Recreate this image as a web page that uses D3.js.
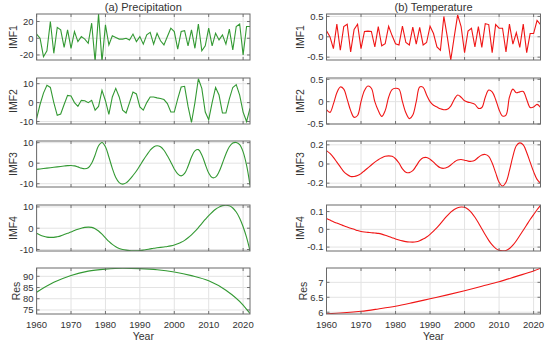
<!DOCTYPE html>
<html>
<head>
<meta charset="utf-8">
<script src="https://cdn.jsdelivr.net/npm/d3@7"></script>
<style>
  body { margin: 0; background: #fff; }
  text { font-family: "Liberation Sans", Arial, sans-serif; fill: #333; }
</style>
</head>
<body>
<script>
// annual series 1960-2022
var years = d3.range(1960, 2023);
var resYears = [1960, 1965, 1970, 1975, 1980, 1985, 1990, 1995, 2000, 2005, 2010, 2015, 2020, 2022];

var precipIMF1 = [5, 0, -22, -15, 20, -18, 13, 10, -11, 10, -12, 8, -4, 2, -1, -6, 18, -28, 29, -28,
  16, -8, 3, 1, -1, -1, 0, -2, 5, -4, 2, -7, 4, 7, -7, 6, -3, -8, 2, 12,
  8, -13, 8, 9, -9, 10, -12, 17, -15, -9, 12, -9, 6, -2, 4, -7, 11, -14, 14, 17,
  -20, 14, 14];
var precipIMF2 = [-8.4, -1, 5, 9.1, 8, 0, -6.7, -6, -1, 3.8, 3.5, 0, -2, 1.2, 1, 0, 1.2, -4, -2, 6.5,
  1, -6.2, 3, 7.5, 3, -4, -5.5, 0, 5.6, 4.6, -2.3, -4, 0, 3, 3, 2.5, 2.2, 1.6, -0.5, -5,
  -5, 2, 8.2, 8.6, -2, -10.5, 0, 12.6, 7.5, -5, -9, 0, 8, 4, -5.5, -5.5, 2, 8, 9.5, 4,
  -5, -10, -3];
var precipIMF3 = [-3.0, -2.8, -2.6, -2.4, -2.2, -2.0, -1.8, -1.6, -1.4, -1.2, -1.1, -1.3, -1.8, -2.4, -2.7, -2.2, 0, 4, 8.5, 10.1,
  8, 3, -2.5, -7, -9.5, -10.2, -9.6, -8, -6, -3.8, -1.2, 1.5, 4, 6.3, 7.9, 8.5, 8, 6.3, 3.6, 0.5,
  -2.8, -5.2, -6.2, -5, -1.5, 3, 6, 6.6, 4, -0.5, -4.8, -7, -6.8, -4.2, 0, 4.5, 8, 9.8, 10.1, 9,
  5.5, -1, -10.7];
var precipIMF4 = [-2.4, -3.2, -3.8, -4.2, -4.3, -4.3, -4.0, -3.6, -3.0, -2.4, -1.8, -1.1, -0.5, 0, 0.4, 0.5, 0.4, -0.2, -1.3, -2.8,
  -4.5, -6.2, -7.6, -8.7, -9.5, -10.0, -10.3, -10.5, -10.6, -10.6, -10.5, -10.3, -10.0, -9.7, -9.4, -9.2, -9.0, -8.8, -8.6, -8.3,
  -7.9, -7.3, -6.6, -5.7, -4.5, -3.1, -1.5, 0.3, 2.2, 4.1, 5.9, 7.5, 8.9, 9.9, 10.6, 10.8, 10.5, 9.5, 7.6, 4.7,
  0.7, -4.3, -10.6];
var precipRes = [82.9, 87.3, 90.4, 92.3, 93.2, 93.6, 93.4, 92.9, 91.9, 90.3, 88.0, 83.8, 77.2, 73.4];

var tempIMF1 = [0.15, 0.0, -0.29, 0.31, -0.33, 0.25, 0.31, -0.37, 0.18, 0.31, -0.29, 0.13, 0.14, 0.13, -0.25, 0.25, -0.22, -0.17, 0.26, 0.03,
  -0.17, -0.2, 0.26, -0.14, -0.2, 0.24, -0.18, 0.23, -0.2, -0.14, 0.26, 0.08, -0.25, -0.33, 0.5, 0.0, -0.57, 0.0, 0.54, 0.25,
  -0.39, 0.14, 0.21, -0.25, 0.25, -0.26, 0.32, 0.3, -0.39, 0.3, 0.21, 0.21, -0.37, 0.31, -0.18, 0.1, -0.26, 0.31, -0.39, 0.08,
  0.08, 0.4, 0.3];
var tempIMF2 = [-0.18, -0.24, -0.05, 0.2, 0.33, 0.28, 0.05, -0.2, -0.35, -0.31, 0.0, 0.25, 0.35, 0.3, 0.0, -0.2, -0.33, -0.2, 0.1, 0.27,
  0.3, 0.28, 0.0, -0.25, -0.38, -0.3, 0.0, 0.33, 0.32, 0.15, 0.0, -0.08, -0.12, -0.16, -0.18, -0.17, -0.1, 0.05, 0.15, 0.1,
  0.02, -0.01, -0.03, -0.06, -0.15, -0.13, 0.1, 0.26, 0.22, 0.05, -0.18, -0.32, -0.3, 0.1, 0.28, 0.2, 0.22, 0.23, 0.05, -0.13,
  -0.12, -0.06, -0.13];
var tempIMF3 = [0.14, 0.11, 0.07, 0.02, -0.03, -0.08, -0.11, -0.13, -0.13, -0.12, -0.1, -0.07, -0.04, -0.01, 0.02, 0.045, 0.065, 0.08, 0.085, 0.08,
  0.055, 0.01, -0.05, -0.085, -0.09, -0.07, -0.02, 0.035, 0.065, 0.068, 0.05, 0.02, -0.015, -0.04, -0.045, -0.035, -0.01, 0.02, 0.042, 0.047,
  0.04, 0.03, 0.028, 0.04, 0.07, 0.095, 0.1, 0.08, 0.01, -0.09, -0.19, -0.23, -0.19, -0.07, 0.08, 0.19, 0.22, 0.2, 0.12, 0.02,
  -0.08, -0.16, -0.2];
var tempIMF4 = [0.061, 0.052, 0.043, 0.035, 0.027, 0.02, 0.013, 0.006, 0.0, -0.007, -0.012, -0.015, -0.017, -0.019, -0.021, -0.023, -0.027, -0.033, -0.04, -0.047,
  -0.054, -0.06, -0.065, -0.069, -0.071, -0.072, -0.07, -0.064, -0.055, -0.043, -0.028, -0.01, 0.01, 0.032, 0.055, 0.077, 0.097, 0.112, 0.122, 0.126,
  0.124, 0.113, 0.094, 0.068, 0.037, 0.003, -0.031, -0.062, -0.088, -0.107, -0.118, -0.121, -0.119, -0.108, -0.089, -0.064, -0.035, -0.005, 0.025, 0.055,
  0.083, 0.11, 0.135];
var tempRes = [5.95, 5.98, 6.03, 6.11, 6.2, 6.32, 6.45, 6.58, 6.72, 6.87, 7.02, 7.2, 7.38, 7.47];

var xTicks = [1960, 1970, 1980, 1990, 2000, 2010, 2020];

var width = 550, height = 345;
var tops = [14, 78, 141, 205, 268];
var panelH = 46;

var columns = [
  {
    title: "(a) Precipitation", left: 36.6, right: 250, color: "#339933",
    panels: [
      { label: "IMF1", x: years, y: precipIMF1, domain: [-26, 29], ticks: [-20, 0, 20], curve: d3.curveLinear },
      { label: "IMF2", x: years, y: precipIMF2, domain: [-11.3, 13], ticks: [-10, 0, 10], curve: d3.curveLinear },
      { label: "IMF3", x: years, y: precipIMF3, domain: [-11.6, 10.8], ticks: [-10, 0, 10], curve: d3.curveCatmullRom },
      { label: "IMF4", x: years, y: precipIMF4, domain: [-10.7, 10.9], ticks: [-10, 0, 10], curve: d3.curveCatmullRom },
      { label: "Res", x: resYears, y: precipRes, domain: [73.2, 93.7], ticks: [75, 80, 85, 90], curve: d3.curveMonotoneX }
    ]
  },
  {
    title: "(b) Temperature", left: 326.5, right: 540.5, color: "#f01616",
    panels: [
      { label: "IMF1", x: years, y: tempIMF1, domain: [-0.57, 0.56], ticks: [-0.5, 0, 0.5], curve: d3.curveLinear },
      { label: "IMF2", x: years, y: tempIMF2, domain: [-0.5, 0.53], ticks: [-0.5, 0, 0.5], curve: d3.curveCatmullRom },
      { label: "IMF3", x: years, y: tempIMF3, domain: [-0.24, 0.24], ticks: [-0.2, 0, 0.2], curve: d3.curveCatmullRom },
      { label: "IMF4", x: years, y: tempIMF4, domain: [-0.122, 0.137], ticks: [-0.1, 0, 0.1], curve: d3.curveCatmullRom },
      { label: "Res", x: resYears, y: tempRes, domain: [5.94, 7.48], ticks: [6, 6.5, 7], curve: d3.curveMonotoneX }
    ]
  }
];

var svg = d3.select("body").append("svg").attr("width", width).attr("height", height);

columns.forEach(function (col, ci) {
  var x = d3.scaleLinear().domain([1960, 2022]).range([col.left, col.right]);

  svg.append("text")
    .attr("x", (col.left + col.right) / 2)
    .attr("y", 10.5)
    .attr("text-anchor", "middle")
    .attr("font-size", 11)
    .text(col.title);

  col.panels.forEach(function (p, pi) {
    var top = tops[pi], bottom = top + panelH;
    var y = d3.scaleLinear().domain(p.domain).range([bottom, top]);
    var g = svg.append("g");
    var clipId = "clip" + ci + "_" + pi;

    g.append("clipPath").attr("id", clipId)
      .append("rect")
      .attr("x", col.left).attr("y", top)
      .attr("width", col.right - col.left).attr("height", panelH);

    // grid
    g.selectAll(".gx").data(xTicks).enter().append("line")
      .attr("x1", d => x(d)).attr("x2", d => x(d))
      .attr("y1", top).attr("y2", bottom)
      .attr("stroke", "#e3e3e3").attr("stroke-width", 1);
    g.selectAll(".gy").data(p.ticks).enter().append("line")
      .attr("x1", col.left).attr("x2", col.right)
      .attr("y1", d => y(d)).attr("y2", d => y(d))
      .attr("stroke", "#e3e3e3").attr("stroke-width", 1);

    // line
    var line = d3.line()
      .x((d, i) => x(p.x[i]))
      .y(d => y(d))
      .curve(p.curve);
    g.append("path")
      .datum(p.y)
      .attr("d", line)
      .attr("fill", "none")
      .attr("stroke", col.color)
      .attr("stroke-width", 1.1)
      .attr("clip-path", "url(#" + clipId + ")");

    // inner tick marks
    xTicks.forEach(function (t) {
      g.append("line").attr("x1", x(t)).attr("x2", x(t)).attr("y1", bottom).attr("y2", bottom - 3)
        .attr("stroke", "#555").attr("stroke-width", 0.8);
      g.append("line").attr("x1", x(t)).attr("x2", x(t)).attr("y1", top).attr("y2", top + 3)
        .attr("stroke", "#555").attr("stroke-width", 0.8);
    });
    p.ticks.forEach(function (t) {
      g.append("line").attr("x1", col.left).attr("x2", col.left + 3).attr("y1", y(t)).attr("y2", y(t))
        .attr("stroke", "#555").attr("stroke-width", 0.8);
      g.append("line").attr("x1", col.right).attr("x2", col.right - 3).attr("y1", y(t)).attr("y2", y(t))
        .attr("stroke", "#555").attr("stroke-width", 0.8);
    });

    // frame
    g.append("rect")
      .attr("x", col.left).attr("y", top)
      .attr("width", col.right - col.left).attr("height", panelH)
      .attr("fill", "none").attr("stroke", "#6a6a6a").attr("stroke-width", 1);

    // y tick labels
    var labels = g.selectAll(".yl").data(p.ticks).enter().append("text")
      .attr("x", col.left - 3)
      .attr("y", d => y(d))
      .attr("dy", "0.35em")
      .attr("text-anchor", "end")
      .attr("font-size", 9.5)
      .text(d => String(d));
    var maxW = 0;
    labels.each(function () { maxW = Math.max(maxW, this.getComputedTextLength()); });

    var lx = col.left - 3 - maxW - 3;
    g.append("text")
      .attr("transform", "translate(" + lx + "," + (top + panelH / 2) + ") rotate(-90)")
      .attr("text-anchor", "middle")
      .attr("font-size", 10.5)
      .text(p.label);

    if (pi === col.panels.length - 1) {
      g.selectAll(".xl").data(xTicks).enter().append("text")
        .attr("x", d => x(d))
        .attr("y", bottom + 14)
        .attr("text-anchor", "middle")
        .attr("font-size", 9.5)
        .text(d => d);
      g.append("text")
        .attr("x", (col.left + col.right) / 2)
        .attr("y", 340)
        .attr("text-anchor", "middle")
        .attr("font-size", 10.5)
        .text("Year");
    }
  });
});
</script>
</body>
</html>
